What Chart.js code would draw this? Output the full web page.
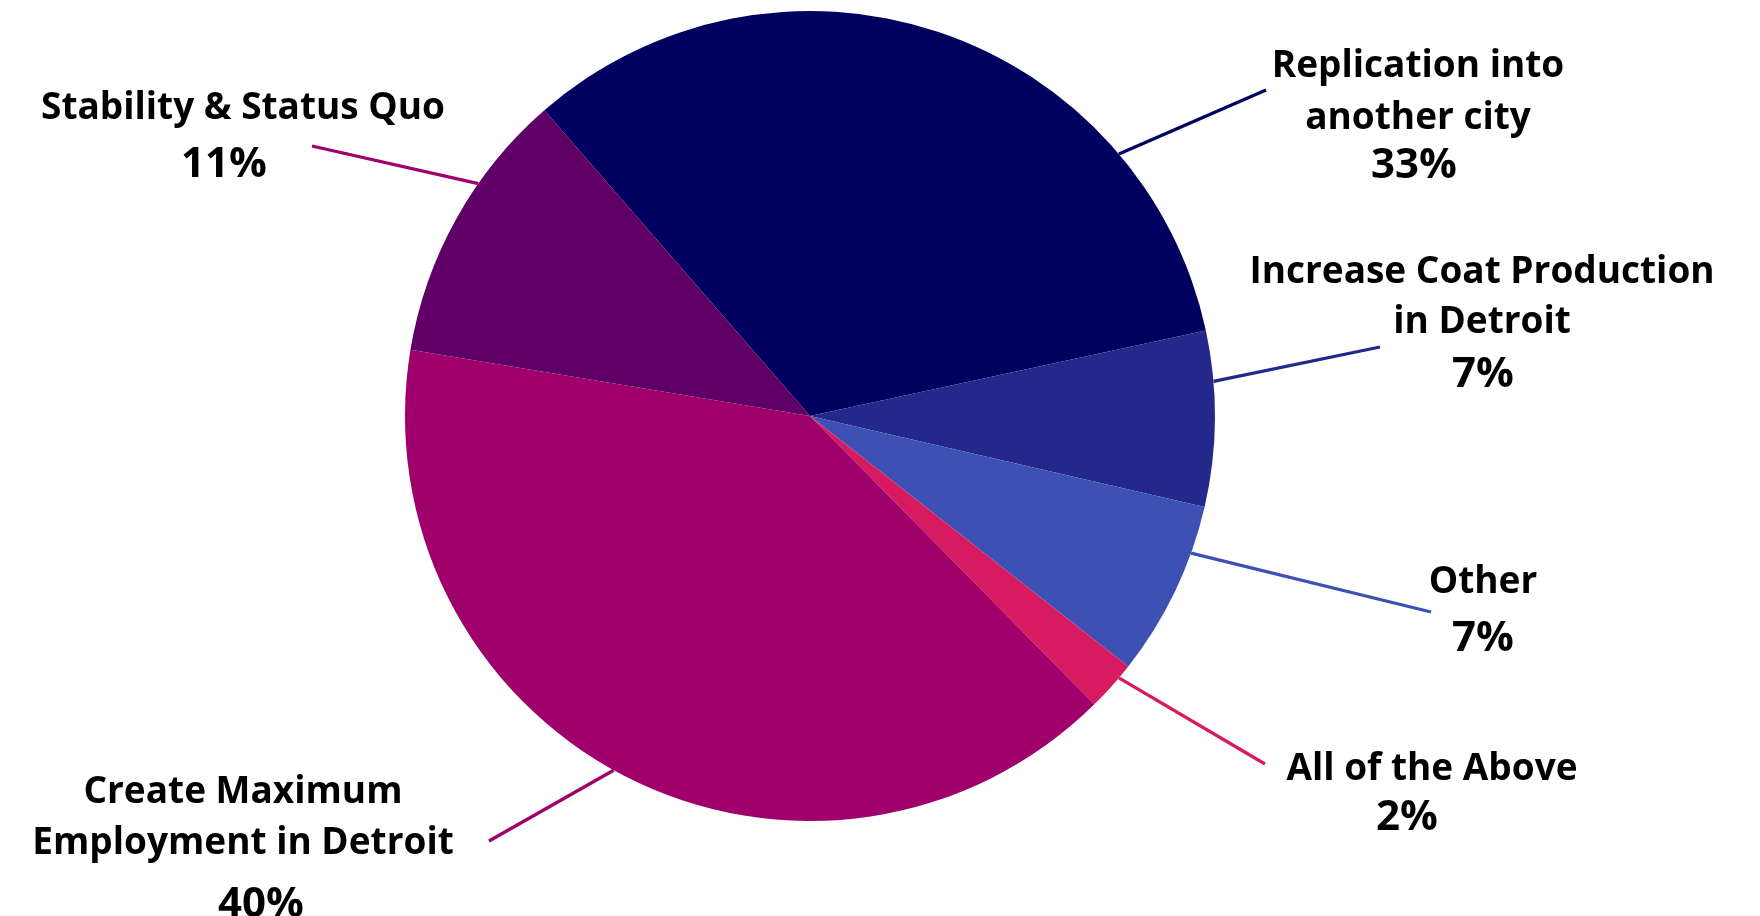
<!DOCTYPE html>
<html>
<head>
<meta charset="utf-8">
<script src="https://cdn.jsdelivr.net/npm/chart.js@4.4.1/dist/chart.umd.min.js"></script>
<style>
html,body{margin:0;padding:0;background:#ffffff;}
#wrap{width:1760px;height:916px;position:relative;}
</style>
</head>
<body>
<div id="wrap"><canvas id="c" width="1760" height="916"></canvas></div>
<script>
// ---- data ----
const categories = [
  ['Replication into', 'another city'],
  ['Increase Coat Production', 'in Detroit'],
  ['Other'],
  ['All of the Above'],
  ['Create Maximum', 'Employment in Detroit'],
  ['Stability & Status Quo']
];
const values = [33, 7, 7, 2, 40, 11];
const sliceColors = ['#000060', '#23288a', '#3d51b5', '#d81b60', '#a0006b', '#600066'];
const lineColors  = ['#000060', '#23288a', '#3d51b5', '#d81b60', '#a0006b', '#a0006b'];

// ---- label layout (annotation placement only) ----
const labelLayout = [
  {angle: -40.3, end: [1266, 90],  cx: 1418, base: [77, 129],  pcx: 1414, pbase: 178},
  {angle: -4.9,  end: [1380, 347], cx: 1482, base: [283, 333], pcx: 1483, pbase: 387},
  {angle: 19.8,  end: [1431, 612], cx: 1483, base: [593],      pcx: 1483, pbase: 651},
  {angle: 40.3,  end: [1265, 764], cx: 1432, base: [780],      pcx: 1407, pbase: 830},
  {angle: 119.0, end: [489, 841],  cx: 243,  base: [803, 854], pcx: 261,  pbase: 917},
  {angle: 215.0, end: [312, 146],  cx: 243,  base: [119],      pcx: 224,  pbase: 177}
];

const labelFont = '700 37px "Open Sans", "Noto Sans", sans-serif';
const pctFont = '700 42px "Open Sans", "Noto Sans", sans-serif';

const calloutPlugin = {
  id: 'callouts',
  afterDatasetsDraw(chart) {
    const ctx = chart.ctx;
    const meta = chart.getDatasetMeta(0);
    meta.data.forEach((arc, i) => {
      const p = arc.getProps(['x', 'y', 'outerRadius'], true);
      const L = labelLayout[i];
      const a = L.angle * Math.PI / 180;
      const sx = p.x + p.outerRadius * Math.cos(a);
      const sy = p.y + p.outerRadius * Math.sin(a);
      ctx.save();
      ctx.strokeStyle = lineColors[i];
      ctx.lineWidth = 3.3;
      ctx.beginPath();
      ctx.moveTo(sx, sy);
      ctx.lineTo(L.end[0], L.end[1]);
      ctx.stroke();
      ctx.fillStyle = '#000000';
      ctx.textAlign = 'center';
      ctx.textBaseline = 'alphabetic';
      ctx.font = labelFont;
      categories[i].forEach((t, k) => ctx.fillText(t, L.cx, L.base[k]));
      ctx.font = pctFont;
      ctx.fillText(values[i] + '%', L.pcx, L.pbase);
      ctx.restore();
    });
  }
};

new Chart(document.getElementById('c'), {
  type: 'pie',
  data: {
    labels: categories,
    datasets: [{
      data: values,
      backgroundColor: sliceColors,
      borderWidth: 0,
      hoverOffset: 0
    }]
  },
  options: {
    responsive: false,
    animation: false,
    devicePixelRatio: 1,
    rotation: -41,
    layout: {padding: {top: 11, bottom: 95, left: 0, right: 140}},
    plugins: {legend: {display: false}, tooltip: {enabled: false}}
  },
  plugins: [calloutPlugin]
});
</script>
</body>
</html>
